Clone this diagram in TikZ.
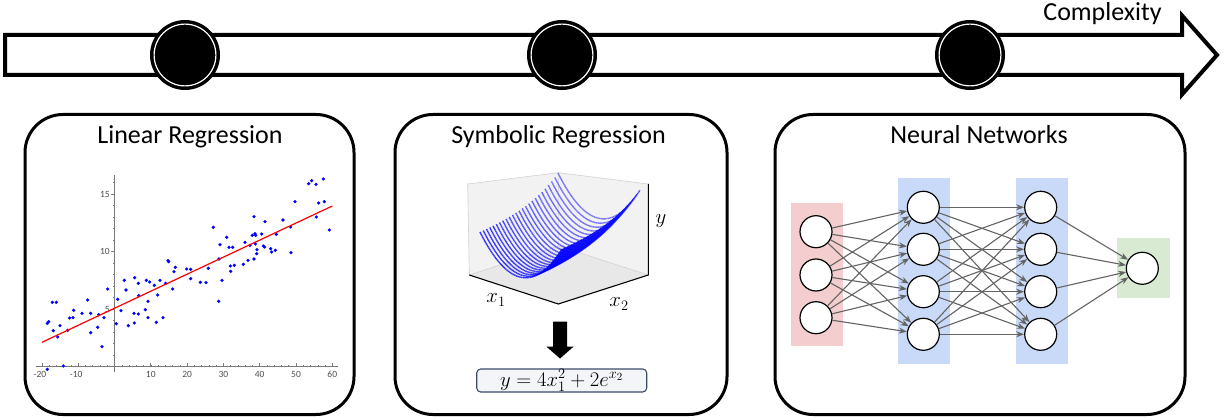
\documentclass[tikz,border=0pt]{standalone}
\usepackage{fontspec}
\setmainfont{Carlito}
\usetikzlibrary{arrows.meta}
\definecolor{nnred}{RGB}{244,206,206}
\definecolor{nnblue}{RGB}{201,218,248}
\definecolor{nngreen}{RGB}{217,234,211}
\definecolor{nnedgec}{RGB}{100,100,100}
\definecolor{fbord}{RGB}{60,75,105}
\definecolor{ffill}{RGB}{243,245,249}
\definecolor{axisc}{RGB}{120,120,120}
\definecolor{tickc}{RGB}{80,80,80}
\definecolor{panec}{RGB}{242,242,242}
\definecolor{floorc}{RGB}{232,232,232}
\begin{document}
\begin{tikzpicture}[x=1pt,y=-1pt,
  declare function={
    sfx(\a,\t)=521+41*\a+78*\t;
    sfy(\a,\t)=281.4+8.5*\a-26*\t-9.2*(4*\a*\a+2*exp(-1.5+2.2*\t));
    sfold(\t)=min(1,(1729+1659.7*exp(-1.5+2.2*\t))/5740.8);
  },
  milestone/.style={circle, fill=black, draw=black, double=white, double distance=1.2pt, line width=3.5pt, minimum size=61.8pt, inner sep=0pt},
  panel/.style={draw=black, line width=3pt, rounded corners=38pt, fill=white, inner sep=0pt},
  title/.style={font=\fontsize{26}{30}\selectfont, anchor=base, inner sep=0pt},
  ticklab/.style={font=\fontsize{9.5}{10}\selectfont, text=tickc, inner sep=0pt},
  neuron/.style={circle, draw=black, line width=1.2pt, fill=white, minimum size=32pt, inner sep=0pt},
  nnedge/.style={draw=nnedgec, line width=1.1pt, -{Stealth[length=8pt,width=6pt]}},
  mlab/.style={font=\fontsize{22}{26}\selectfont, inner sep=0pt}
]
\useasboundingbox (0,0) rectangle (1225,419);

% ---------- timeline arrow ----------
\draw[line width=4pt, fill=white, line join=miter] (5,35) -- (1182,35) -- (1182,15.5) -- (1217,55) -- (1182,94.5) -- (1182,75) -- (5,75) -- cycle;
\node[milestone] (m1) at (185,55) {};
\node[milestone] (m2) at (562,55) {};
\node[milestone] (m3) at (970,55) {};
\node[font=\fontsize{26}{30}\selectfont, anchor=base, inner sep=0pt] (cplx) at (1102.5,21) {Complexity};

% ---------- panels ----------
\node[panel, minimum width=329pt, minimum height=300pt] (lrbox) at (189.5,264.5) {};
\node[panel, minimum width=332pt, minimum height=300pt] (srbox) at (561,264.5) {};
\node[panel, minimum width=410pt, minimum height=300pt] (nnbox) at (980,264.5) {};
\node[title] (lrtitle) at (190,143.5) {Linear Regression};
\node[title] (srtitle) at (558.5,143.5) {Symbolic Regression};
\node[title] (nntitle) at (979,143.5) {Neural Networks};

% ---------- linear regression plot ----------
\draw[axisc, line width=0.8pt] (36,366.5) -- (338,366.5);
\draw[axisc, line width=0.8pt] (114.5,372) -- (114.5,175);
\foreach \v in {-20,-10,10,20,30,40,50,60}
  \draw[axisc, line width=0.7pt] ({114.5+3.63*\v},366.5) -- ({114.5+3.63*\v},362.5);
\foreach \v in {-18,-16,...,58}
  \draw[axisc, line width=0.5pt] ({114.5+3.63*\v},366.5) -- ({114.5+3.63*\v},364.5);
\foreach \v in {5,10,15}
  \draw[axisc, line width=0.7pt] (114.5,{366.5-11.5*\v}) -- (110.5,{366.5-11.5*\v});
\foreach \v in {1,...,16}
  \draw[axisc, line width=0.5pt] (114.5,{366.5-11.5*\v}) -- (112.5,{366.5-11.5*\v});
\foreach \v/\t in {-20/-20,-10/-10}
  \node[ticklab] at ({114.5+3.63*\v-2},374) {\t};
\foreach \v in {10,20,30,40,50,60}
  \node[ticklab] at ({114.5+3.63*\v},374) {\v};
\foreach \v in {5,10,15}
  \node[ticklab, anchor=east] at (110,{366.5-11.5*\v}) {\v};
\foreach \a/\b in {82/700,86/695,97/637,109/637,100/722,113/741,120/707,143/721,149/684,159/683,161/661,186/670,203/630,212/670,212/728,233/712,236/674,246/770,252/683,263/597,130/828,82/838,
289/701,293/628,303/662,313/571,318/600,325/707,342/670,343/699,344/563,355/580,355/672,356/617,376/659,379/571,384/634,384/683,389/576,403/586,409/697,413/615,420/571,429/683,437/580,444/512,446/515,458/597,462/545,466/532,500/537,512/538,512/566,541/577,558/578,565/535,580/412,596/634,597/507,600/464,606/571,620/442,627/472,631/528,632/544,638/472,643/526,670/523,675/457,684/511,690/466,697/436,702/380,702/507,705/431,706/462,707/436,710/491,711/479,725/432,730/468,734/471,735/395,752/476,755/486,766/481,769/433,789/390,812/411,813/488,825/335,866/281,875/272,888/283,889/381,896/339,910/267,913/335,928/420}
  \fill[blue] ({20+\a/3},{90+\b/3}) circle (1.8);
\draw[red, line width=1.2pt] (42,342.3) -- (332.3,206);

% ---------- symbolic regression plot ----------
\fill[panec] (467.7,184) -- (558.3,172.7) -- (558.3,246) -- (469.3,275) -- cycle;
\fill[panec] (558.3,172.7) -- (648.3,184) -- (648.3,275) -- (558.3,246) -- cycle;
\fill[floorc] (469.3,275) -- (558.3,246) -- (648.3,275) -- (558.3,304) -- cycle;
\draw[gray!35, line width=0.6pt] (469.3,275) -- (467.7,184) -- (558.3,172.7) -- (648.3,184);
\draw[gray!35, line width=0.6pt] (558.3,172.7) -- (558.3,246) -- (469.3,275);
\draw[gray!35, line width=0.6pt] (558.3,246) -- (648.3,275);
\foreach \k in {24,23,...,0}{
  \pgfmathsetmacro{\tt}{\k/24}
  \pgfmathsetmacro{\shade}{100-35*\tt}
  \draw[blue!\shade!white, line width=1.4pt, opacity=0.8, dash pattern=on 1.4pt off 0.4pt]
    plot[domain=-1:1, samples=70, variable=\xa, smooth] ({sfx(\xa,\tt)},{sfy(\xa,\tt)});
}
\fill[blue, opacity=0.8]
  plot[domain=0.366:1, samples=20, variable=\xa, smooth] ({sfx(\xa,0)},{sfy(\xa,0)})
  -- plot[domain=0:1, samples=25, variable=\tb, smooth] ({sfx(1,\tb)},{sfy(1,\tb)})
  -- plot[domain=1:0, samples=25, variable=\tb, smooth] ({sfx(sfold(\tb),\tb)},{sfy(sfold(\tb),\tb)})
  -- cycle;
\draw[black, line width=1.1pt] (469.3,275) -- (558.3,304) -- (648.3,275) -- (648.3,184);
\node[mlab] (lx1) at (496,300) {$x_1$};
\node[mlab] (lx2) at (619,304) {$x_2$};
\node[mlab] (ly) at (661,221) {$y$};
\fill[black] (553,321.7) -- (567,321.7) -- (567,346.7) -- (573.5,346.7) -- (560,358.5) -- (546.5,346.7) -- (553,346.7) -- cycle;
\node[draw=fbord, fill=ffill, line width=1.1pt, rounded corners=4pt, minimum width=170pt, minimum height=23pt, inner sep=0pt, font=\fontsize{22}{24}\selectfont] (formula) at (561.7,380.5) {$y = 4x_1^2 + 2e^{x_2}$};

% ---------- neural network ----------
\fill[nnred] (790.7,202.7) rectangle (843.3,346);
\fill[nnblue] (897.7,178.3) rectangle (950.3,364);
\fill[nnblue] (1015.7,178.3) rectangle (1067.7,364);
\fill[nngreen] (1117.3,237.7) rectangle (1170,297.7);
\node[neuron] (in1) at (816,231.7) {};
\node[neuron] (in2) at (816,275) {};
\node[neuron] (in3) at (816,317.7) {};
\node[neuron] (ha1) at (923.3,207.3) {};
\node[neuron] (ha2) at (923.3,249.3) {};
\node[neuron] (ha3) at (923.3,291.7) {};
\node[neuron] (ha4) at (923.3,334.3) {};
\node[neuron] (hb1) at (1040.7,207.3) {};
\node[neuron] (hb2) at (1040.7,249.3) {};
\node[neuron] (hb3) at (1040.7,291.7) {};
\node[neuron] (hb4) at (1040.7,334.3) {};
\node[neuron] (out) at (1142.3,268.3) {};
\foreach \i in {1,2,3}
  \foreach \j in {1,2,3,4}
    \draw[nnedge] (in\i) -- (ha\j);
\foreach \i in {1,2,3,4}
  \foreach \j in {1,2,3,4}
    \draw[nnedge] (ha\i) -- (hb\j);
\foreach \i in {1,2,3,4}
  \draw[nnedge] (hb\i) -- (out);
\end{tikzpicture}
\end{document}
